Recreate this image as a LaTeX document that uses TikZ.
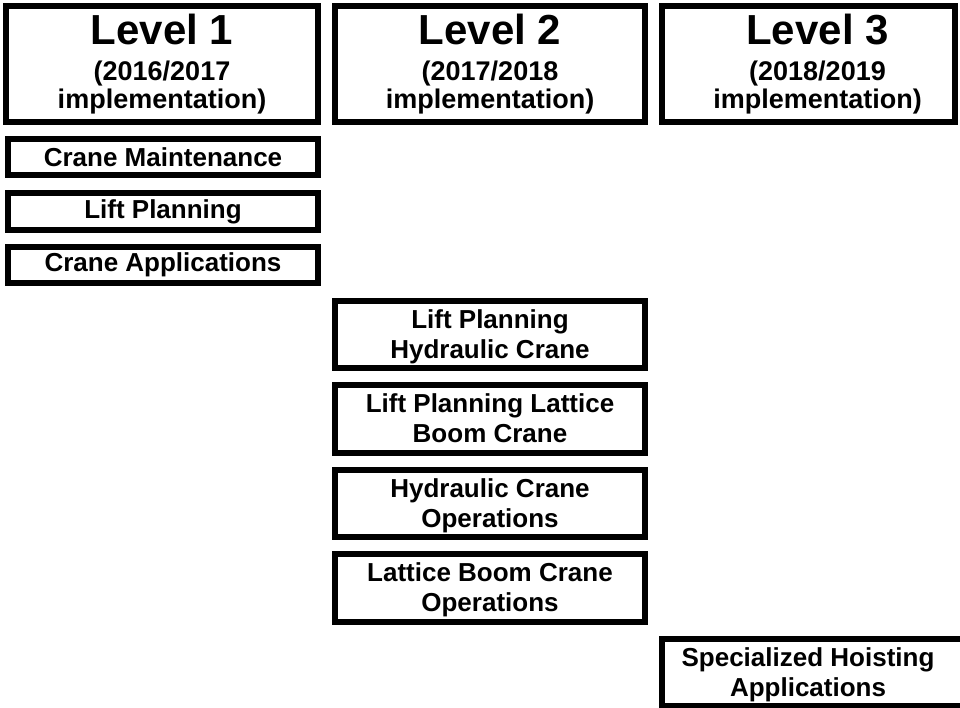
\documentclass[tikz,border=0pt]{standalone}
\usepackage{fontspec}
\setmainfont{Liberation Sans}
\newcommand\lvltitle[1]{{\fontsize{42}{42}\selectfont #1}}
\newcommand\hstrut{\rule{0pt}{22.5pt}}
\newcommand\dstrut{\rule[-5.5pt]{0pt}{5.5pt}}
\tikzset{
  box/.style={draw=black, line width=6pt, fill=white, inner sep=0pt, align=center,
    font=\bfseries\fontsize{26}{30}\selectfont},
  headbox/.style={draw=black, line width=6pt, fill=white, inner sep=0pt, align=center,
    font=\bfseries\fontsize{27}{28}\selectfont},
}
\begin{document}
\begin{tikzpicture}[x=1pt,y=-1pt]
\useasboundingbox (0,0) rectangle (960,707);
\clip (0,0) rectangle (960,707);
\fill[white] (0,0) rectangle (960,707);
% headers
\node[headbox, minimum width=312pt, minimum height=116pt] (l1) at (162,64)
  {\lvltitle{Level 1}\\[8pt](2016/2017\\implementation)};
\node[headbox, minimum width=310pt, minimum height=116pt] (l2) at (490,64)
  {\lvltitle{Level 2}\\[8pt](2017/2018\\implementation)};
\node[headbox, minimum width=293pt, minimum height=116pt] (l3) at (808.5,64)
  {\hspace*{18pt}\lvltitle{Level 3}\\[8pt]\hspace*{18pt}(2018/2019\\\hspace*{18pt}implementation)};
% level 1 courses
\node[box, minimum width=310pt, minimum height=36pt] (cm) at (163,157) {Crane Maintenance};
\node[box, minimum width=310pt, minimum height=37pt] (lp) at (163,211.5) {Lift Planning};
\node[box, minimum width=310pt, minimum height=36pt] (ca) at (163,265) {Crane Applications};
% level 2 courses
\node[box, minimum width=310pt, minimum height=67pt] (lph) at (490,334.5) {\hstrut Lift Planning\\Hydraulic Crane\dstrut};
\node[box, minimum width=310pt, minimum height=68pt] (lpl) at (490,419) {\hstrut Lift Planning Lattice\\Boom Crane\dstrut};
\node[box, minimum width=310pt, minimum height=67pt] (hco) at (490,503.5) {\hstrut Hydraulic Crane\\Operations\dstrut};
\node[box, minimum width=310pt, minimum height=68pt] (lbco) at (490,588) {\hstrut Lattice Boom Crane\\Operations\dstrut};
% level 3 course
\node[box, minimum width=313pt, minimum height=67pt] (sha) at (818.5,672.5)
  {\hstrut Specialized Hoisting\hspace*{21pt}\\Applications\hspace*{21pt}\dstrut};
\end{tikzpicture}
\end{document}
